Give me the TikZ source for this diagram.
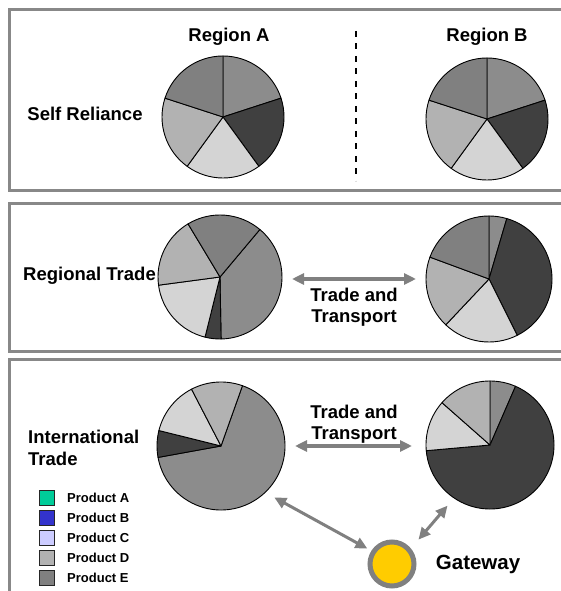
\documentclass[tikz,border=0pt]{standalone}
\usepackage{fontspec}
\setmainfont{Liberation Sans}
\usetikzlibrary{arrows.meta,positioning}
\definecolor{framegray}{HTML}{888888}
\definecolor{arrowgray}{HTML}{808080}
\definecolor{shadeA}{HTML}{8C8C8C}
\definecolor{shadeB}{HTML}{404040}
\definecolor{shadeC}{HTML}{D4D4D4}
\definecolor{shadeD}{HTML}{B2B2B2}
\definecolor{shadeE}{HTML}{808080}
\definecolor{prodA}{HTML}{00CC99}
\definecolor{prodB}{HTML}{3333CC}
\definecolor{prodC}{HTML}{CCCCFF}
\definecolor{prodD}{HTML}{B2B2B2}
\definecolor{prodE}{HTML}{808080}
\definecolor{gold}{HTML}{FFCC00}
\begin{document}
\begin{tikzpicture}[x=1pt,y=1pt,
    heading/.style={font=\bfseries\fontsize{18.5}{21.5}\selectfont, inner sep=0pt},
    bigheading/.style={font=\bfseries\fontsize{20.5}{23}\selectfont, inner sep=0pt},
    panel/.style={draw=framegray, line width=3pt},
    pie/.style={circle, inner sep=0pt, outer sep=10pt},
    slice/.style={draw=black, line width=0.9pt, line join=round},
    trade/.style={draw=arrowgray, line width=3.2pt, {Triangle[length=12pt,width=11pt]}-{Triangle[length=12pt,width=11pt]}},
    gateway/.style={circle, draw=arrowgray, fill=gold, line width=5pt, minimum size=44pt, inner sep=0pt, outer sep=7pt},
    key/.style={draw=black!85, line width=1.4pt, minimum size=15pt, inner sep=0pt, outer sep=0pt},
    keytext/.style={font=\bfseries\fontsize{13}{15}\selectfont, inner sep=0pt}]
        \useasboundingbox (0,0) rectangle (560,591);

        \draw[panel] (9.5,400) rectangle (575,581.5);
        \draw[panel] (9.5,239) rectangle (575,387);
        \draw[panel] (9.5,-20) rectangle (575,231);

        \node[heading] (regA) at (229,554) { Region A };
        \node[heading] (regB) at (487,554) { Region B };
        \draw[black, line width=2pt, dash pattern=on 6pt off 6.5pt] (356,560) -- (356,410);

        \node[heading] (self) at (85,477) { Self Reliance };
        \node[heading] (regional) at (89.5,315) { Regional Trade };
        \node[heading, align=left, anchor=west] (intl) at (28,143) { International\\Trade };

        \node[pie, minimum size=122pt] (pA1) at (223,474) {};
        \foreach \a/\b/\c in {90/18/shadeA, 18/-54/shadeB, -54/-126/shadeC, -126/-198/shadeD, -198/-270/shadeE}
            \filldraw[slice, fill=\c] (pA1.center) -- ++(\a:61) arc[start angle=\a, end angle=\b, radius=61] -- cycle;

        \node[pie, minimum size=122pt] (pB1) at (487,472) {};
        \foreach \a/\b/\c in {90/18/shadeA, 18/-54/shadeB, -54/-126/shadeC, -126/-198/shadeD, -198/-270/shadeE}
            \filldraw[slice, fill=\c] (pB1.center) -- ++(\a:61) arc[start angle=\a, end angle=\b, radius=61] -- cycle;

        \node[pie, minimum size=124pt] (pA2) at (220,314) {};
        \foreach \a/\b/\c in {50/-89/shadeA, -89/-104/shadeB, -104/-172.4/shadeC, -172.4/-239/shadeD, -239/-310/shadeE}
            \filldraw[slice, fill=\c] (pA2.center) -- ++(\a:62) arc[start angle=\a, end angle=\b, radius=62] -- cycle;

        \node[pie, minimum size=126pt] (pB2) at (489,312) {};
        \foreach \a/\b/\c in {90/73.6/shadeA, 73.6/-63.4/shadeB, -63.4/-133.3/shadeC, -133.3/-200.3/shadeD, -200.3/-270/shadeE}
            \filldraw[slice, fill=\c] (pB2.center) -- ++(\a:63) arc[start angle=\a, end angle=\b, radius=63] -- cycle;

        \node[pie, minimum size=128pt] (pA3) at (221,145) {};
        \foreach \a/\b/\c in {70.4/-169.7/shadeA, -169.7/-194/shadeB, -194/-242.6/shadeC, -242.6/-289.6/shadeD}
            \filldraw[slice, fill=\c] (pA3.center) -- ++(\a:64) arc[start angle=\a, end angle=\b, radius=64] -- cycle;

        \node[pie, minimum size=128pt] (pB3) at (490,146) {};
        \foreach \a/\b/\c in {90/66.5/shadeA, 66.5/-174.9/shadeB, -174.9/-221.4/shadeC, -221.4/-270/shadeD}
            \filldraw[slice, fill=\c] (pB3.center) -- ++(\a:64) arc[start angle=\a, end angle=\b, radius=64] -- cycle;

        \draw[trade] (pB2.west -| pA2.east) -- (pB2.west);
        \node[heading, align=center] (tt2) at (354,284) { Trade and\\Transport };

        \draw[trade, shorten >=4pt] (pA3.east) -- (pA3.east -| pB3.west);
        \node[heading, align=center] (tt3) at (354,166.7) { Trade and\\Transport };

        \node[gateway] (gw) at (392,27) {};
        \node[bigheading, right=14.7pt of gw] (gwlabel) { Gateway };
        \draw[trade, line width=3pt] (pA3.-44) -- (gw.148);
        \draw[trade, line width=3pt, shorten >=7pt] (pB3.-125) -- (gw.41);

        \node[key, fill=prodA] (keyA) at (47,93) {};
        \node[key, fill=prodB, below=5pt of keyA] (keyB) {};
        \node[key, fill=prodC, below=5pt of keyB] (keyC) {};
        \node[key, fill=prodD, below=5pt of keyC] (keyD) {};
        \node[key, fill=prodE, below=5pt of keyD] (keyE) {};
        \node[keytext, right=12.5pt of keyA] { Product A };
        \node[keytext, right=12.5pt of keyB] { Product B };
        \node[keytext, right=12.5pt of keyC] { Product C };
        \node[keytext, right=12.5pt of keyD] { Product D };
        \node[keytext, right=12.5pt of keyE] { Product E };

    \end{tikzpicture}
\end{document}
